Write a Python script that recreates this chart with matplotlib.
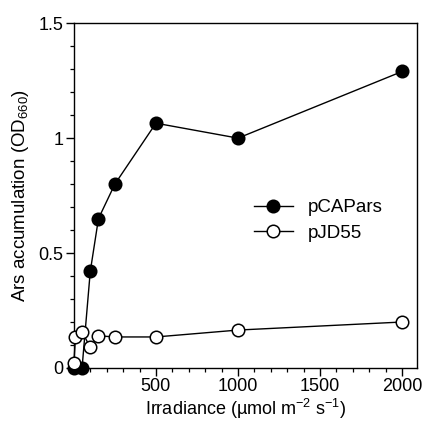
import numpy as np
import matplotlib
matplotlib.use('Agg')
import matplotlib.pyplot as plt
from matplotlib.ticker import MultipleLocator, FixedLocator

plt.rcParams['font.family'] = ['Liberation Sans', 'DejaVu Sans']
plt.rcParams['mathtext.fontset'] = 'custom'
plt.rcParams['mathtext.rm'] = 'Liberation Sans'
plt.rcParams['mathtext.default'] = 'regular'

# irradiance levels and Ars accumulation
x_pcapars = [0, 50, 100, 150, 250, 500, 1000, 2000]
y_pcapars = [0.0, 0.0, 0.42, 0.65, 0.80, 1.065, 1.0, 1.29]

x_pjd55 = [0, 10, 50, 100, 150, 250, 500, 1000, 2000]
y_pjd55 = [0.02, 0.135, 0.157, 0.09, 0.14, 0.135, 0.135, 0.165, 0.20]

x_ticks = [500, 1000, 1500, 2000]
y_ticks = [0, 0.5, 1, 1.5]
y_ticklabels = ['0', '0.5', '1', '1.5']

fig = plt.figure(figsize=(4.22, 4.22), dpi=100)
ax = fig.add_axes([0.175, 0.128, 0.813, 0.817])

ax.plot(x_pjd55, y_pjd55, '-o', color='black', mfc='white', mec='black',
        ms=9, mew=1.1, lw=1.0, label='pJD55', zorder=3, clip_on=False)
ax.plot(x_pcapars, y_pcapars, '-o', color='black', mfc='black', mec='black',
        ms=9, mew=1.1, lw=1.0, label='pCAPars', zorder=2, clip_on=False)

ax.set_xlim(0, 2090)
ax.set_ylim(0, 1.5)
ax.xaxis.set_major_locator(FixedLocator(x_ticks))
ax.xaxis.set_minor_locator(MultipleLocator(100))
ax.set_yticks(y_ticks)
ax.set_yticklabels(y_ticklabels)
ax.yaxis.set_minor_locator(MultipleLocator(0.1))

ax.tick_params(which='major', direction='out', length=5.5, width=1.0,
               labelsize=13, pad=2, top=False, right=False)
ax.tick_params(which='minor', direction='out', length=3.2, width=0.9,
               top=False, right=False)
for s in ax.spines.values():
    s.set_linewidth(1.0)

ax.set_xlabel('Irradiance (\u00b5mol m$^{-2}$ s$^{-1}$)', fontsize=13, labelpad=1)
ax.set_ylabel('Ars accumulation (OD$_{660}$)', fontsize=13.5, labelpad=5)

h, l = ax.get_legend_handles_labels()
ax.legend(h[::-1], l[::-1], loc='center left', bbox_to_anchor=(0.475, 0.428),
          frameon=False, fontsize=13.5, handlelength=2.1, handletextpad=0.8,
          labelspacing=0.45, borderpad=0.4)

fig.savefig('out.png', dpi=100)
